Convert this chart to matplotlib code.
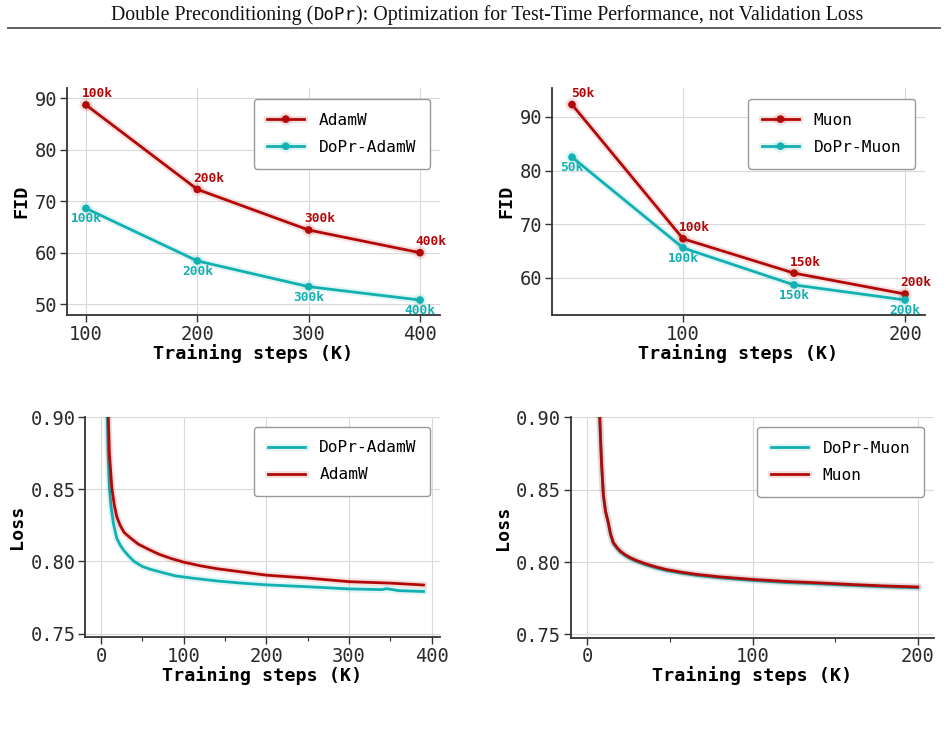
import numpy as np
import matplotlib
matplotlib.use("Agg")
import matplotlib.pyplot as plt
import matplotlib.patheffects as pe
from matplotlib.ticker import MultipleLocator

# ---- data ----
adam_steps = [100, 200, 300, 400]
adam_fid = [88.7, 72.3, 64.4, 60.0]
dopr_adam_fid = [68.6, 58.4, 53.4, 50.8]
adam_labels = ["100k", "200k", "300k", "400k"]

muon_steps = [50, 100, 150, 200]
muon_fid = [92.3, 67.3, 60.9, 57.0]
dopr_muon_fid = [82.5, 65.6, 58.7, 55.9]
muon_labels = ["50k", "100k", "150k", "200k"]

adam_loss_x = [8.5, 10, 13, 16, 19, 23, 28, 35, 45, 57, 70, 85, 100, 120, 140,
               160, 200, 250, 300, 350, 390]
adam_loss = [0.905, 0.875, 0.851, 0.839, 0.831, 0.825, 0.820, 0.8165, 0.812,
             0.8085, 0.805, 0.802, 0.7995, 0.797, 0.795, 0.7935, 0.7905, 0.7885,
             0.786, 0.785, 0.7837]
dopr_adam_loss_x = [7.5, 8.5, 10, 12, 15, 19, 23, 27, 33, 40, 50, 60, 75, 90, 110,
                    140, 170, 200, 250, 300, 340, 345, 360, 390]
dopr_adam_loss = [0.905, 0.875, 0.851, 0.838, 0.826, 0.816, 0.8115, 0.808, 0.804,
                  0.800, 0.7965, 0.7945, 0.7922, 0.790, 0.7885, 0.7865, 0.785,
                  0.7838, 0.7825, 0.781, 0.7805, 0.7812, 0.7798, 0.7792]

muon_loss_x = [7.3, 8.5, 9.7, 11, 12.7, 14, 15.7, 18, 20, 23, 26, 30, 36, 42, 48,
               57, 66, 80, 100, 120, 137, 160, 180, 200]
muon_loss = [0.905, 0.870, 0.846, 0.835, 0.827, 0.8195, 0.8135, 0.810, 0.8075,
             0.805, 0.803, 0.801, 0.7985, 0.7965, 0.7948, 0.793, 0.7915, 0.7898,
             0.788, 0.7866, 0.7858, 0.7845, 0.7835, 0.7828]
dopr_muon_loss = [0.905, 0.870, 0.846, 0.835, 0.8268, 0.819, 0.8128, 0.8093,
                  0.8068, 0.8043, 0.8023, 0.8003, 0.7978, 0.7958, 0.7941, 0.7923,
                  0.7908, 0.7891, 0.7873, 0.7859, 0.7851, 0.7839, 0.7829, 0.7822]

RED = "#b30808"
CYAN = "#13b0b2"

plt.rcParams["font.family"] = "DejaVu Sans Mono"
plt.rcParams["axes.edgecolor"] = "#333333"
plt.rcParams["xtick.color"] = "#333333"
plt.rcParams["ytick.color"] = "#333333"
plt.rcParams["xtick.labelcolor"] = "#2a2a2a"
plt.rcParams["ytick.labelcolor"] = "#2a2a2a"

fig = plt.figure(figsize=[9.48, 7.42], dpi=100)


def glow(color):
    return [pe.Stroke(linewidth=5, foreground=color, alpha=0.12), pe.Normal()]


def style_axes(ax, xlabel, ylabel):
    for s in ["top", "right"]:
        ax.spines[s].set_visible(False)
    ax.spines["left"].set_linewidth(1.3)
    ax.spines["bottom"].set_linewidth(1.3)
    ax.grid(True, color="#d9d9d9", linewidth=0.8)
    ax.set_axisbelow(True)
    ax.tick_params(axis="both", labelsize=13.5, length=5, width=1.0, pad=2)
    ax.set_xlabel(xlabel, fontsize=13.2, fontweight="bold", labelpad=0)
    ax.set_ylabel(ylabel, fontsize=13.2, fontweight="bold", labelpad=3)


def add_legend(ax, handles, lbls, anchor):
    leg = ax.legend(handles, lbls, loc="upper right", bbox_to_anchor=anchor,
                    fontsize=11.6, handlelength=2.3, borderpad=0.85,
                    labelspacing=0.75, handletextpad=0.9, fancybox=True,
                    framealpha=1.0, borderaxespad=0)
    leg.get_frame().set_edgecolor("#999999")


def fid_panel(rect, steps, base, dopr, labels, names, xlim, ylim, xticks, yticks):
    ax = fig.add_axes(rect)
    ax.plot(steps, base, "-o", color=RED, lw=2.0, ms=4.5, label=names[0],
            path_effects=glow(RED))
    ax.plot(steps, dopr, "-o", color=CYAN, lw=2.0, ms=4.5, label=names[1],
            path_effects=glow(CYAN))
    for x, y, t in zip(steps, base, labels):
        ax.annotate(t, (x, y), xytext=(8, 8), textcoords="offset points",
                    ha="center", va="center", color=RED, fontsize=9.3,
                    fontweight="bold")
    for x, y, t in zip(steps, dopr, labels):
        ax.annotate(t, (x, y), xytext=(0, -7.5), textcoords="offset points",
                    ha="center", va="center", color=CYAN, fontsize=9.3,
                    fontweight="bold")
    ax.set_xlim(xlim)
    ax.set_ylim(ylim)
    ax.set_xticks(xticks)
    ax.set_yticks(yticks)
    style_axes(ax, "Training steps (K)", "FID")
    h, l = ax.get_legend_handles_labels()
    add_legend(ax, h, l, (0.973, 0.951))
    return ax


def loss_panel(rect, x_base, base, x_dopr, dopr, names, xlim, xticks):
    ax = fig.add_axes(rect)
    ax.plot(x_dopr, dopr, color=CYAN, lw=2.0, label=names[1], path_effects=glow(CYAN))
    ax.plot(x_base, base, color=RED, lw=2.0, label=names[0], path_effects=glow(RED))
    ax.set_xlim(xlim)
    ax.set_ylim(0.7477, 0.90)
    ax.set_xticks(xticks)
    ax.xaxis.set_minor_locator(MultipleLocator(xticks[1] / 2))
    ax.tick_params(axis="x", which="minor", length=3, width=0.8)
    ax.set_yticks([0.75, 0.80, 0.85, 0.90])
    ax.set_yticklabels(["0.75", "0.80", "0.85", "0.90"])
    style_axes(ax, "Training steps (K)", "Loss")
    h, l = ax.get_legend_handles_labels()
    add_legend(ax, h, l, (0.973, 0.956))
    return ax


fid_panel([0.0707, 0.5755, 0.3935, 0.306], adam_steps, adam_fid, dopr_adam_fid,
          adam_labels, ["AdamW", "DoPr-AdamW"], (83, 418), (47.9, 92),
          [100, 200, 300, 400], [50, 60, 70, 80, 90])
fid_panel([0.5823, 0.5755, 0.3935, 0.306], muon_steps, muon_fid, dopr_muon_fid,
          muon_labels, ["Muon", "DoPr-Muon"], (41, 209), (53.1, 95.4),
          [100, 200], [60, 70, 80, 90])
loss_panel([0.0897, 0.1415, 0.3745, 0.2965], adam_loss_x, adam_loss,
           dopr_adam_loss_x, dopr_adam_loss, ["AdamW", "DoPr-AdamW"],
           (-19.4, 410), [0, 100, 200, 300, 400])
loss_panel([0.602, 0.1405, 0.383, 0.297], muon_loss_x, muon_loss,
           muon_loss_x, dopr_muon_loss, ["Muon", "DoPr-Muon"],
           (-10.1, 209.7), [0, 100, 200])

# header: serif text with the acronym in monospace, then a rule
pieces = [("Double Preconditioning (", "Liberation Serif", 14.3),
          ("DoPr", "DejaVu Sans Mono", 12.5),
          ("): Optimization for Test-Time Performance, not Validation Loss",
           "Liberation Serif", 14.3)]
renderer = fig.canvas.get_renderer()
texts = []
total = 0
for s, fam, size in pieces:
    t = fig.text(0, 1 - 15 / 742, s, family=fam, fontsize=size,
                 va="center", ha="left", color="#111111")
    w = t.get_window_extent(renderer).width
    texts.append((t, w))
    total += w
x0 = 487 - total / 2
for t, w in texts:
    t.set_x(x0 / 948)
    x0 += w
fig.add_artist(plt.Line2D([8 / 948, 940 / 948], [1 - 28 / 742, 1 - 28 / 742],
                          color="#555555", linewidth=1.3))

fig.savefig("out.png", dpi=100)
